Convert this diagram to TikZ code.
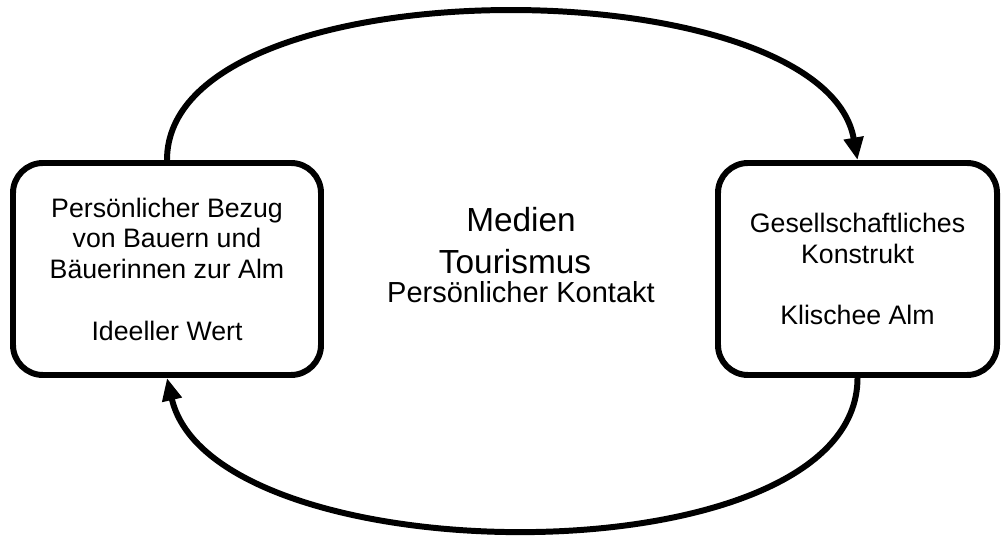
\documentclass[tikz,border=0pt]{standalone}
\usepackage{fontspec}
\setmainfont{Liberation Sans}
\usetikzlibrary{arrows.meta}

\begin{document}
\begin{tikzpicture}[
	box/.style={draw,line width=3.4pt,rounded corners=0.6cm,minimum width=6.16cm,minimum height=4.24cm,align=center,font=\fontsize{15.2}{17.5}\selectfont},
	loop/.style={line width=3.4pt,-{Triangle[length=0.45cm,width=0.38cm]}}]
	\useasboundingbox (0,0) rectangle (20.04,-10.78);
	\node[box] (PB) at (3.34,-5.38) {Persönlicher Bezug\\von Bauern und\\Bäuerinnen zur Alm\\[17.5pt]Ideeller Wert};
	\node[box,minimum width=5.58cm] (GK) at (17.15,-5.38) {Gesellschaftliches\\Konstrukt\\[17.5pt]Klischee Alm};
	\node[anchor=base,font=\fontsize{19}{22}\selectfont] (ME) at (10.42,-4.64) {Medien};
	\node[anchor=base,font=\fontsize{19}{22}\selectfont] (TO) at (10.30,-5.47) {Tourismus};
	\node[anchor=base,font=\fontsize{16.5}{19}\selectfont] (PK) at (10.42,-6.05) {Persönlicher Kontakt};
	\draw[loop] (PB.north) to[out=90,in=100,looseness=0.735] (GK.north);
	\draw[loop] (GK.south) to[out=-90,in=-77,looseness=0.76] (PB.south);
\end{tikzpicture}
\end{document}
